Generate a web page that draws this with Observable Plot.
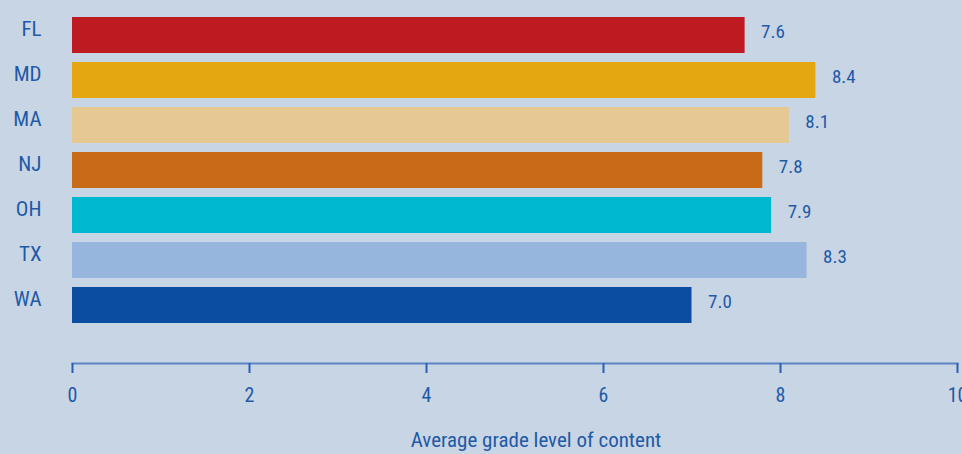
<!DOCTYPE html>
<html>
<head>
<meta charset="utf-8">
<script src="https://cdn.jsdelivr.net/npm/d3@7"></script>
<script src="https://cdn.jsdelivr.net/npm/@observablehq/plot@0.6"></script>
<style>
  html, body { margin: 0; padding: 0; background: #c8d5e5; overflow: hidden; }
  #chart svg { display: block; }
</style>
</head>
<body>
<div id="chart"></div>
<script>
const states = ["FL", "MD", "MA", "NJ", "OH", "TX", "WA"];
const values = [7.6, 8.4, 8.1, 7.8, 7.9, 8.3, 7.0];
const barColors = ["#be1a21", "#e4a711", "#e6c892", "#c86a17", "#00b8cf", "#96b6de", "#0b4da0"];
const xTicks = [0, 2, 4, 6, 8, 10];
const xTitle = "Average grade level of content";

const data = states.map((s, i) => ({state: s, value: values[i], color: barColors[i]}));
const textColor = "#1f5aa6";
const font = "'Roboto Condensed', 'DejaVu Sans Condensed', sans-serif";

const chart = Plot.plot({
  width: 962,
  height: 454,
  marginLeft: 72,
  marginRight: 5,
  marginTop: 0,
  marginBottom: 91,
  style: {background: "#c8d5e5", fontFamily: font, fontSize: "20px", color: textColor},
  x: {domain: [0, 10]},
  y: {domain: states, range: [8, 332], padding: 0.2},
  marks: [
    Plot.barX(data, {x: "value", y: "state", fill: "color"}),
    Plot.text(data, {x: "value", y: "state", text: d => d.value.toFixed(1), textAnchor: "start", dx: 16, dy: -4, fill: textColor, fontSize: 19}),
    Plot.axisY({tickSize: 0, tickPadding: 31, label: null, fill: textColor, fontSize: 21, dy: -6}),
    Plot.frame({anchor: "bottom", stroke: "#5b86c6", strokeWidth: 2}),
    Plot.axisX({ticks: xTicks, tickSize: 10, tickPadding: 14, stroke: "#2a5fb0", strokeWidth: 2, fill: textColor, label: null, fontSize: 20, tickFormat: d => String(d)}),
    Plot.text([xTitle], {frameAnchor: "bottom", dx: 21, dy: 83, fill: textColor, fontSize: 21})
  ]
});
document.getElementById("chart").appendChild(chart);
</script>
</body>
</html>
